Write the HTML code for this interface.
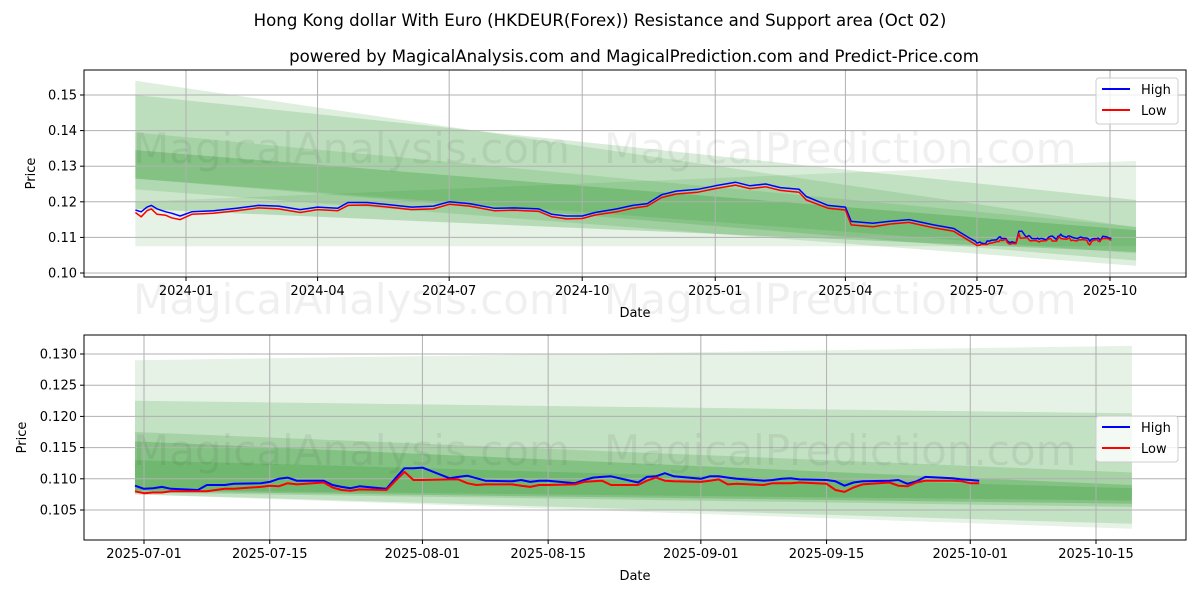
<!DOCTYPE html>
<html><head><meta charset="utf-8"><style>
body{margin:0;background:#fff;}
svg{display:block;font-family:"DejaVu Sans","Liberation Sans",sans-serif;}
</style></head><body>
<svg id="c" width="1200" height="600" xmlns="http://www.w3.org/2000/svg">
<text x="600" y="26" text-anchor="middle" font-size="16.6">Hong Kong dollar With Euro (HKDEUR(Forex)) Resistance and Support area (Oct 02)</text>
<text x="634" y="62" text-anchor="middle" font-size="16.6">powered by MagicalAnalysis.com and MagicalPrediction.com and Predict-Price.com</text>
</svg>
<script>
const topDates=["2023-11-27","2023-12-01","2023-12-05","2023-12-08","2023-12-12","2023-12-18","2023-12-22","2023-12-28","2024-01-05","2024-01-20","2024-02-05","2024-02-20","2024-03-05","2024-03-20","2024-04-01","2024-04-15","2024-04-22","2024-05-05","2024-05-20","2024-06-05","2024-06-20","2024-07-01","2024-07-15","2024-08-01","2024-08-15","2024-09-01","2024-09-10","2024-09-20","2024-10-01","2024-10-10","2024-10-25","2024-11-05","2024-11-15","2024-11-25","2024-12-05","2024-12-20","2025-01-01","2025-01-15","2025-01-25","2025-02-05","2025-02-15","2025-02-28","2025-03-05","2025-03-20","2025-04-01","2025-04-05","2025-04-20","2025-05-01","2025-05-15","2025-06-01","2025-06-15","2025-06-25"];
const topHigh=[0.1177,0.1172,0.1185,0.1190,0.1180,0.1172,0.1168,0.1160,0.1172,0.1175,0.1182,0.1190,0.1188,0.1178,0.1185,0.1182,0.1198,0.1198,0.1192,0.1185,0.1188,0.1200,0.1195,0.1182,0.1183,0.1180,0.1165,0.1160,0.1160,0.1170,0.1180,0.1190,0.1195,0.1220,0.1230,0.1235,0.1245,0.1255,0.1245,0.1250,0.1240,0.1235,0.1215,0.1190,0.1185,0.1145,0.1140,0.1145,0.1150,0.1135,0.1125,0.1100];
const topLow=[0.1170,0.1158,0.1175,0.1180,0.1165,0.1162,0.1155,0.1150,0.1165,0.1168,0.1175,0.1183,0.1180,0.1170,0.1178,0.1175,0.1190,0.1191,0.1185,0.1178,0.1180,0.1193,0.1188,0.1175,0.1176,0.1173,0.1158,0.1152,0.1153,0.1163,0.1172,0.1182,0.1188,0.1212,0.1222,0.1227,0.1237,0.1247,0.1237,0.1242,0.1232,0.1227,0.1205,0.1182,0.1177,0.1135,0.1130,0.1137,0.1142,0.1127,0.1117,0.1092];
const recDates=["2025-06-30","2025-07-01","2025-07-02","2025-07-03","2025-07-04","2025-07-07","2025-07-08","2025-07-09","2025-07-10","2025-07-11","2025-07-14","2025-07-15","2025-07-16","2025-07-17","2025-07-18","2025-07-21","2025-07-22","2025-07-23","2025-07-24","2025-07-25","2025-07-28","2025-07-29","2025-07-30","2025-07-31","2025-08-01","2025-08-04","2025-08-05","2025-08-06","2025-08-07","2025-08-08","2025-08-11","2025-08-12","2025-08-13","2025-08-14","2025-08-15","2025-08-18","2025-08-19","2025-08-20","2025-08-21","2025-08-22","2025-08-25","2025-08-26","2025-08-27","2025-08-28","2025-08-29","2025-09-01","2025-09-02","2025-09-03","2025-09-04","2025-09-05","2025-09-08","2025-09-09","2025-09-10","2025-09-11","2025-09-12","2025-09-15","2025-09-16","2025-09-17","2025-09-18","2025-09-19","2025-09-22","2025-09-23","2025-09-24","2025-09-25","2025-09-26","2025-09-29","2025-09-30","2025-10-01","2025-10-02"];
const recHigh=[0.1089,0.1084,0.1085,0.1087,0.1084,0.1082,0.1090,0.1090,0.1090,0.1092,0.1093,0.1095,0.1100,0.1102,0.1097,0.1097,0.1090,0.1087,0.1085,0.1088,0.1084,0.1101,0.1117,0.1117,0.1118,0.1101,0.1103,0.1105,0.1101,0.1097,0.1096,0.1098,0.1095,0.1097,0.1097,0.1093,0.1098,0.1102,0.1103,0.1104,0.1094,0.1103,0.1104,0.1109,0.1104,0.1100,0.1104,0.1104,0.1102,0.1100,0.1097,0.1098,0.1100,0.1101,0.1099,0.1098,0.1096,0.1089,0.1094,0.1096,0.1097,0.1098,0.1092,0.1096,0.1103,0.1101,0.1099,0.1098,0.1097];
const recLow=[0.1080,0.1077,0.1078,0.1078,0.1080,0.1080,0.1080,0.1082,0.1084,0.1084,0.1087,0.1089,0.1088,0.1093,0.1091,0.1094,0.1086,0.1082,0.1081,0.1083,0.1082,0.1097,0.1111,0.1098,0.1098,0.1099,0.1099,0.1093,0.1090,0.1091,0.1091,0.1089,0.1087,0.1090,0.1090,0.1091,0.1095,0.1096,0.1097,0.1090,0.1090,0.1097,0.1102,0.1097,0.1096,0.1095,0.1097,0.1099,0.1091,0.1092,0.1090,0.1093,0.1093,0.1093,0.1094,0.1092,0.1082,0.1079,0.1086,0.1091,0.1094,0.1089,0.1088,0.1094,0.1097,0.1097,0.1096,0.1093,0.1093];
const topBandsTop=[0.154,0.150,0.1200,0.1345,0.1395];
const topBandsBot=[0.1235,0.1265,0.1075,0.1180,0.1265];
const topBandsEndTop=[0.1128,0.1205,0.1315,0.1120,0.1130];
const topBandsEndBot=[0.1020,0.1035,0.1075,0.1059,0.1055];
const topBandAlpha=[0.13,0.15,0.1,0.2,0.12];
const botBandsTop=[0.129,0.1225,0.1175,0.1160,0.1130];
const botBandsBot=[0.1075,0.1075,0.1078,0.1080,0.1082];
const botBandsEndTop=[0.1313,0.1205,0.1110,0.1090,0.1085];
const botBandsEndBot=[0.1020,0.1028,0.1055,0.1060,0.1065];
const botBandAlpha=[0.1,0.15,0.15,0.2,0.15];
const topYTicks=[0.10,0.11,0.12,0.13,0.14,0.15];
const topXTicks=["2024-01","2024-04","2024-07","2024-10","2025-01","2025-04","2025-07","2025-10"];
const botYTicks=[0.105,0.110,0.115,0.120,0.125,0.130];
const botXTicks=["2025-07-01","2025-07-15","2025-08-01","2025-08-15","2025-09-01","2025-09-15","2025-10-01","2025-10-15"];

const NS="http://www.w3.org/2000/svg";
const svg=document.getElementById('c');
const day=s=>Date.parse(s.length==7?s+"-01":s)/86400000;
function mk(tag,attrs,parent){const e=document.createElementNS(NS,tag);for(const k in attrs)e.setAttribute(k,attrs[k]);(parent||svg).appendChild(e);return e;}

function panel(o){
  const X=d=>o.x0+(day(d)-day(o.d0))*(o.x1-o.x0)/(day(o.d1)-day(o.d0));
  const Y=v=>o.y0+(v-o.v0)*(o.y1-o.y0)/(o.v1-o.v0);
  const g=mk('g',{});
  
  
  const bx0=X(o.bandStart),bx1=X(o.bandEnd);
  for(let i=0;i<o.bt.length;i++){
    const p=mk('polygon',{points:`${bx0},${Y(o.bt[i])} ${bx1},${Y(o.bet[i])} ${bx1},${Y(o.beb[i])} ${bx0},${Y(o.bb[i])}`,fill:'rgb(0,128,0)','fill-opacity':o.ba[i]},g);
    
    
  }
  o.yt.forEach(v=>{
    const l=mk('line',{x1:o.L,x2:o.R,y1:Y(v),y2:Y(v),stroke:'#b0b0b0','stroke-width':1},g);
    
    
    mk('line',{x1:o.L-4,x2:o.L,y1:Y(v),y2:Y(v),stroke:'#000'},g);
    const t=mk('text',{x:o.L-7,y:Y(v)+4.5,'text-anchor':'end','font-size':13},g);
    t.textContent=o.yfmt(v);
    
    
  });
  o.xt.forEach(d=>{
    const x=X(d);
    const l=mk('line',{x1:x,x2:x,y1:o.T,y2:o.B,stroke:'#b0b0b0','stroke-width':1},g);
    
    
    mk('line',{x1:x,x2:x,y1:o.B,y2:o.B+4,stroke:'#000'},g);
    const t=mk('text',{x:x,y:o.B+18,'text-anchor':'middle','font-size':13},g);
    t.textContent=d;
    
    
  });
  o.wm.forEach(w=>{
    const t=mk('text',{x:w[0],y:w[1],'font-size':42,fill:'#000','fill-opacity':0.06},g);
    t.textContent=w[2];
    
    
  });
  [[o.high,'#0000ff','high-line'],[o.low,'#ff0000','low-line']].forEach(s=>{
    const pts=o.dates.map((d,i)=>X(d).toFixed(1)+','+Y(s[0][i]).toFixed(1)).join(' ');
    const pl=mk('polyline',{points:pts,fill:'none',stroke:s[1],'stroke-width':o.lw,'stroke-linejoin':'round'},g);
    
    
  });
  const fr=mk('rect',{x:o.L,y:o.T,width:o.R-o.L,height:o.B-o.T,fill:'none',stroke:'#000','stroke-width':1},g);
  
  
  const xl=mk('text',{x:(o.L+o.R)/2,y:o.B+40,'text-anchor':'middle','font-size':13},g);
  xl.textContent='Date';
  
  
  const yl=mk('text',{x:0,y:0,'text-anchor':'middle','font-size':13,transform:`translate(${o.ylx},${(o.T+o.B)/2}) rotate(-90)`},g);
  yl.textContent='Price';
  
  
  const lg=mk('g',{},g);
  
  
  mk('rect',{x:o.lgx,y:o.lgy,width:82,height:46,rx:3,fill:'#fff','fill-opacity':0.8,stroke:'#ccc'},lg);
  [['High','#0000ff',0],['Low','#ff0000',21]].forEach(e=>{
    mk('line',{x1:o.lgx+6,x2:o.lgx+34,y1:o.lgy+11+e[2],y2:o.lgy+11+e[2],stroke:e[1],'stroke-width':2},lg);
    const t=mk('text',{x:o.lgx+45,y:o.lgy+16+e[2],'font-size':13},lg);
    t.textContent=e[0];
    
    
  });
}

panel({name:'top-panel',L:84,R:1186,T:70,B:277,x0:186,x1:1110,d0:"2024-01-01",d1:"2025-10-01",y0:273,y1:95,v0:0.10,v1:0.15,
  bandStart:"2023-11-27",bandEnd:"2025-10-19",bt:topBandsTop,bb:topBandsBot,bet:topBandsEndTop,beb:topBandsEndBot,ba:topBandAlpha,
  yt:topYTicks,xt:topXTicks,yfmt:v=>v.toFixed(2),dates:topDates.concat(recDates),high:topHigh.concat(recHigh),low:topLow.concat(recLow),lw:1.5,
  wm:[[133,163,'MagicalAnalysis.com'],[604,163,'MagicalPrediction.com'],[133,314,'MagicalAnalysis.com'],[604,314,'MagicalPrediction.com']],
  ylx:35,lgx:1096,lgy:78});
panel({name:'bottom-panel',L:84,R:1186,T:335,B:540,x0:144,x1:1096,d0:"2025-07-01",d1:"2025-10-15",y0:510,y1:354,v0:0.105,v1:0.130,
  bandStart:"2025-06-30",bandEnd:"2025-10-19",bt:botBandsTop,bb:botBandsBot,bet:botBandsEndTop,beb:botBandsEndBot,ba:botBandAlpha,
  yt:botYTicks,xt:botXTicks,yfmt:v=>v.toFixed(3),dates:recDates,high:recHigh,low:recLow,lw:2,
  wm:[[133,465,'MagicalAnalysis.com'],[604,465,'MagicalPrediction.com']],
  ylx:26,lgx:1096,lgy:416});
</script>
</body></html>
